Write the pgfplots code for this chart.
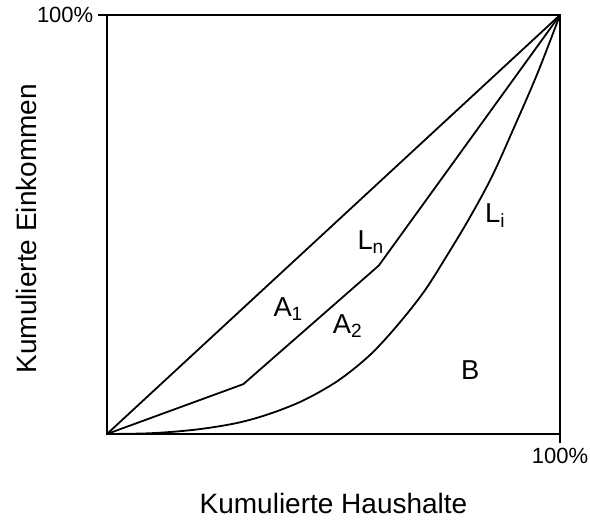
\documentclass[border=0pt]{standalone}
\usepackage{fontspec}
\setmainfont{Liberation Sans}
\usepackage{pgfplots}
\pgfplotsset{compat=1.18}
\begin{document}
\begin{tikzpicture}
\begin{axis}[
  at={(0,0)}, anchor=south west,
  scale only axis,
  width=339.75pt, height=314.25pt,
  xmin=0, xmax=1, ymin=0, ymax=1,
  axis line style={line width=1.4pt},
  xtick={1}, ytick={1},
  xticklabels={100\%}, yticklabels={100\%},
  tick pos=left,
  tick align=outside,
  major tick length=6.75pt,
  tick style={black, line width=1.1pt},
  ticklabel style={font=\fontsize{16.5}{19}\selectfont},
  /pgf/number format/assume math mode=true,
  clip=false,
]
% line of equality
\addplot[black, no markers, line width=1.35pt] coordinates {(0,0) (1,1)};
% L_n
\addplot[black, no markers, line width=1.35pt] coordinates {(0,0) (0.301,0.119) (0.600,0.402) (1,1)};
% L_i
\addplot[black, no markers, line width=1.35pt, smooth, tension=0.55] coordinates {
  (0,0) (0.100,0.002) (0.200,0.011) (0.290,0.027) (0.364,0.050)
  (0.437,0.082) (0.511,0.128) (0.580,0.188) (0.640,0.258) (0.700,0.340)
  (0.750,0.425) (0.800,0.515) (0.850,0.615) (0.900,0.735) (0.950,0.860) (1,1)};
\path[font=\fontsize{20.5}{24}\selectfont, inner sep=0pt]
  (axis cs:0.367,0.2816) node[anchor=base west] {A\textsubscript{1}}
  (axis cs:0.498,0.240) node[anchor=base west] {A\textsubscript{2}}
  (axis cs:0.781,0.129) node[anchor=base west] {B}
  (axis cs:0.5525,0.441) node[anchor=base west] {L\textsubscript{n}}
  (axis cs:0.834,0.504) node[anchor=base west] {L\textsubscript{i}};
\node[font=\fontsize{21}{25}\selectfont, inner sep=0pt] at ([yshift=-51.75pt]rel axis cs:0.5,0) {Kumulierte Haushalte};
\node[font=\fontsize{21}{25}\selectfont, inner sep=0pt, rotate=90] at ([xshift=-60.75pt]axis cs:0,0.49) {Kumulierte Einkommen};
\end{axis}
\pgfresetboundingbox
\path (-80.25pt,-64.5pt) rectangle (362.25pt,325.5pt);
\end{tikzpicture}
\end{document}
